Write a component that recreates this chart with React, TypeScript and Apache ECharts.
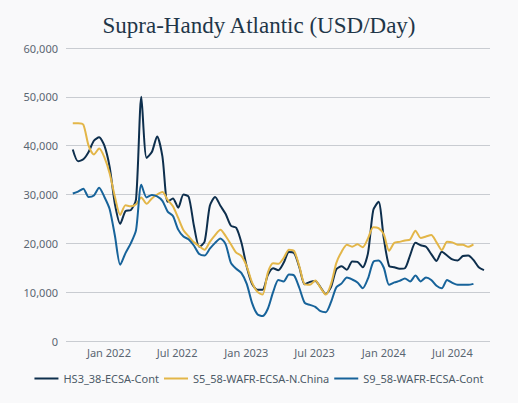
import React, { useEffect, useRef } from "react";
import * as echarts from "echarts";

// Bi-weekly observation dates start at this date (x categories)
const START_DATE = [2021, 8, 27]; // 27 Sep 2021
const STEP_DAYS = 14;

const hs3Values = [
  39200, 36800, 37200, 38700, 41000, 41700, 40000, 35600, 28000, 24000,
  26600, 26800, 29000, 50000, 37500, 38700, 41900, 37800, 28500, 29200,
  27300, 30000, 29500, 23500, 19300, 20300, 27700, 29500, 27700, 26000,
  23600, 23200, 20100, 15200, 11700, 10500, 10500, 13500, 14900, 14500,
  16000, 18200, 18000, 15000, 11600, 12100, 12300, 11000, 9600, 11100,
  14700, 15300, 14600, 16300, 16200, 15100, 18000, 26800, 28500, 21000,
  15400, 15100, 14800, 14900, 17600, 20100, 19600, 19300, 17800, 16400,
  18300, 17500, 16700, 16500, 17400, 17500, 16600, 15100, 14500,
];

const s5Values = [
  44600, 44600, 44300, 40000, 38200, 39400, 37600, 34300, 29500, 25800,
  27800, 27600, 28000, 29400, 28100, 29200, 30000, 30500, 28900, 27600,
  25200, 22700, 21400, 20200, 19400, 18700, 20300, 21700, 22800, 21500,
  19800, 18100, 17400, 15300, 12000, 10100, 9500, 14000, 15900, 15800,
  17000, 18700, 18400, 15200, 11600, 11500, 12400, 10900, 9500, 11700,
  16000, 18300, 19700, 19300, 19800, 19200, 21000, 23300, 23100, 21800,
  18500, 20100, 20300, 20600, 20800, 22600, 21100, 21400, 21700, 20200,
  18600, 20300, 20200, 19700, 19700, 19300, 19800, null, null,
];

const s9Values = [
  30200, 30600, 31200, 29500, 29800, 31400, 29500, 27000, 21500, 15600,
  18000, 20000, 22700, 32000, 29400, 29900, 29600, 28700, 26500, 25600,
  22800, 21400, 20800, 19500, 17800, 17500, 18900, 20100, 21000, 19800,
  16000, 14800, 13900, 11700, 7800, 5500, 5100, 6600, 10000, 12500,
  12200, 13600, 13400, 10800, 7800, 7400, 7000, 6100, 5900, 8000,
  11000, 11800, 13000, 12600, 12000, 10800, 12800, 16200, 16500, 15000,
  11500, 12000, 12300, 12800, 12200, 13400, 12200, 13000, 12500, 11300,
  10800, 12500, 11900, 11500, 11500, 11500, 11700, null, null,
];

const seriesNames = ["HS3_38-ECSA-Cont", "S5_58-WAFR-ECSA-N.China", "S9_58-WAFR-ECSA-Cont"];
const seriesColors = ["#0e2f4d", "#e3b648", "#17639a"];

const tickDates = [
  [2022, 0, 1],
  [2022, 6, 1],
  [2023, 0, 1],
  [2023, 6, 1],
  [2024, 0, 1],
  [2024, 6, 1],
];
const monthNames = ["Jan", "Feb", "Mar", "Apr", "May", "Jun", "Jul", "Aug", "Sep", "Oct", "Nov", "Dec"];

const AXIS_MIN = [2021, 8, 9];
const AXIS_MAX = [2024, 9, 9];

const yTicks = [0, 10000, 20000, 30000, 40000, 50000, 60000];

function buildDates(n: number): number[] {
  const out: number[] = [];
  for (let i = 0; i < n; i++) {
    out.push(new Date(START_DATE[0], START_DATE[1], START_DATE[2] + i * STEP_DAYS).getTime());
  }
  return out;
}

export default function App() {
  const ref = useRef<HTMLDivElement>(null);

  useEffect(() => {
    document.body.style.margin = "0";
    if (!ref.current) return;
    const chart = echarts.init(ref.current, undefined, { renderer: "svg" });
    const dates = buildDates(hs3Values.length);
    const all = [hs3Values, s5Values, s9Values];
    const font = "Noto Sans";

    chart.setOption({
      animation: false,
      backgroundColor: "#f9f9fa",
      title: {
        text: "Supra-Handy Atlantic (USD/Day)",
        left: "center",
        top: 9,
        textStyle: {
          fontFamily: "Liberation Serif",
          fontSize: 23,
          fontWeight: "normal",
          color: "#1f3648",
        },
      },
      grid: { left: 66, right: 28, top: 48, bottom: 62 },
      legend: {
        top: 368,
        left: "center",
        icon: "rect",
        itemWidth: 24,
        itemHeight: 2,
        itemGap: 5,
        textStyle: { fontFamily: font, fontSize: 11, color: "#4d5b68" },
        data: seriesNames,
      },
      xAxis: {
        type: "value",
        min: new Date(AXIS_MIN[0], AXIS_MIN[1], AXIS_MIN[2]).getTime(),
        max: new Date(AXIS_MAX[0], AXIS_MAX[1], AXIS_MAX[2]).getTime(),
        axisLine: { show: false },
        axisTick: { show: false },
        splitLine: { show: false },
        axisLabel: {
          customValues: tickDates.map((d) => new Date(d[0], d[1], d[2]).getTime()),
          formatter: (v: number) => {
            const d = new Date(v);
            return monthNames[d.getMonth()] + " " + d.getFullYear();
          },
          fontFamily: font,
          fontSize: 11,
          color: "#5b6672",
          margin: 6,
          showMinLabel: true,
          showMaxLabel: true,
        },
      },
      yAxis: {
        type: "value",
        min: yTicks[0],
        max: yTicks[yTicks.length - 1],
        interval: 10000,
        axisLine: { show: false },
        axisTick: { show: false },
        splitLine: { lineStyle: { color: "#c9ccd1", width: 1 } },
        axisLabel: {
          formatter: (v: number) => v.toLocaleString("en-US"),
          fontFamily: font,
          fontSize: 11,
          color: "#5b6672",
          margin: 8,
        },
      },
      series: seriesNames.map((name, i) => ({
        name,
        type: "line",
        symbol: "none",
        showSymbol: false,
        smooth: 0.25,
        connectNulls: false,
        lineStyle: { width: 2, color: seriesColors[i] },
        itemStyle: { color: seriesColors[i] },
        data: dates.map((t, j) => [t, all[i][j]]),
      })),
    });

    return () => chart.dispose();
  }, []);

  return <div ref={ref} style={{ width: 518, height: 403 }} />;
}
